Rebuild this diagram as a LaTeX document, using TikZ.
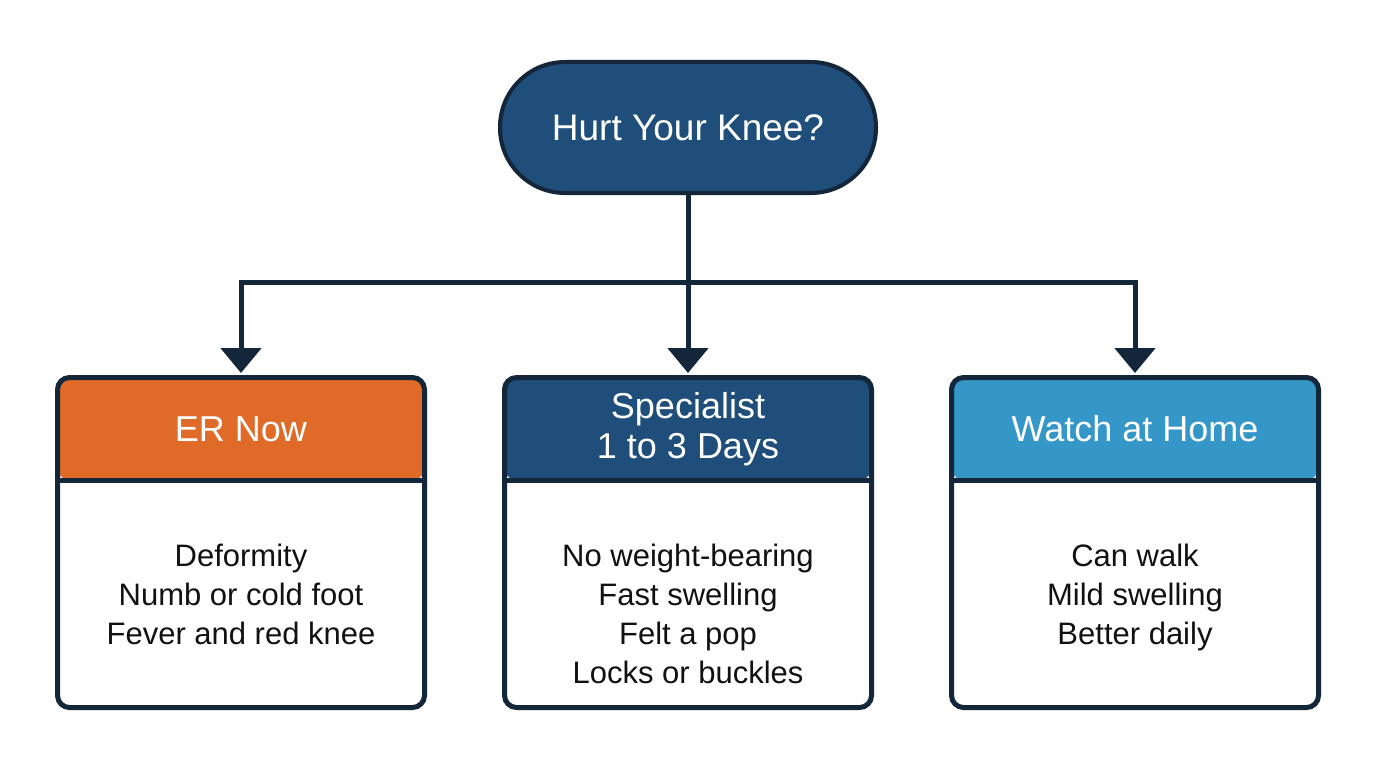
\documentclass[tikz,border=0pt]{standalone}
\usepackage{fontspec}
\setmainfont{Liberation Sans}
\usetikzlibrary{arrows.meta}
\definecolor{navy}{HTML}{1F4E7A}
\definecolor{edge}{HTML}{14263A}
\definecolor{ercol}{HTML}{E06A28}
\definecolor{homecol}{HTML}{3597C8}
\definecolor{ink}{HTML}{111111}
\tikzset{
  pill/.style={draw=edge, line width=4pt, fill=navy, rounded corners=65pt,
    minimum width=376pt, minimum height=131pt, text=white,
    font=\fontsize{37}{44}\selectfont},
  card/.style={draw=edge, line width=5pt, fill=white, rounded corners=12pt,
    minimum width=367pt, minimum height=330pt, inner sep=0pt,
    path picture={
      \fill[#1] (path picture bounding box.north west) rectangle
        ([yshift=-102.5pt]path picture bounding box.north east);
      \draw[edge, line width=5pt]
        ([yshift=-102.5pt]path picture bounding box.north west) --
        ([yshift=-102.5pt]path picture bounding box.north east);
    }},
  head/.style={text=white, align=center, inner sep=0pt,
    font=\fontsize{36}{40}\selectfont},
  body/.style={text=ink, align=center, inner sep=0pt, anchor=north,
    font=\fontsize{31}{39}\selectfont},
  link/.style={draw=edge, line width=5pt},
  arrow/.style={link, -{Triangle[width=40pt,length=25pt]}}
}
\begin{document}
\begin{tikzpicture}[x=1pt, y=-1pt]
\useasboundingbox[fill=white] (0,0) rectangle (1376,768);

\node[pill] (q) at (688,127.5) {Hurt Your Knee?};

\node[card=ercol] (er) at (241,542.5) {};
\node[card=navy] (sp) at (688,542.5) {};
\node[card=homecol] (wh) at (1135,542.5) {};

\node[head] (erh) at (241,429) {ER Now};
\node[head] (sph) at (688,429) {Specialist\\1 to 3 Days};
\node[head] (whh) at (1135,429) {Watch at Home};

\node[body] (erb) at (241,544) {Deformity\\Numb or cold foot\\Fever and red knee};
\node[body] (spb) at (688,544) {No weight-bearing\\Fast swelling\\Felt a pop\\Locks or buckles};
\node[body] (whb) at (1135,544) {Can walk\\Mild swelling\\Better daily};

\coordinate (hub) at (688,282);
\draw[link] (q.south) -- (hub);
\draw[arrow] (hub) -| ([yshift=2pt]er.north);
\draw[arrow] (hub) -- ([yshift=2pt]sp.north);
\draw[arrow] (hub) -| ([yshift=2pt]wh.north);
\end{tikzpicture}
\end{document}
